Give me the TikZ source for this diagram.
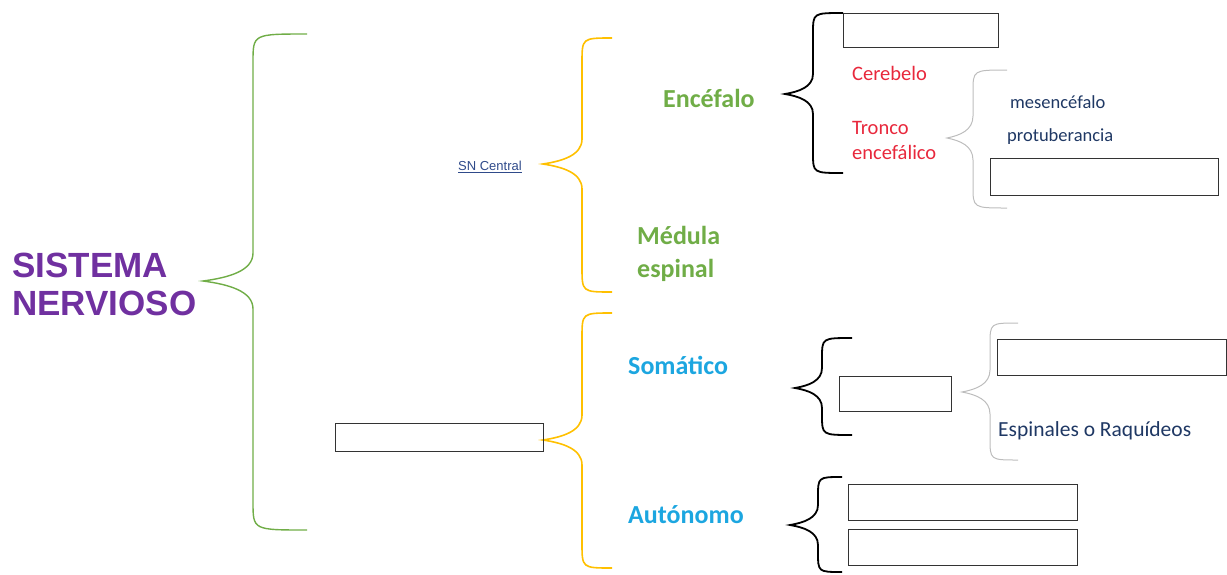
\documentclass[tikz,border=0pt]{standalone}
\usepackage{fontspec}
\setmainfont{Carlito}
\newfontfamily\arialfont{Liberation Sans}
\definecolor{snpurple}{HTML}{7030A0}
\definecolor{sngreen}{HTML}{70AD47}
\definecolor{snyellow}{HTML}{FFC000}
\definecolor{sncyan}{HTML}{1CA6E0}
\definecolor{snred}{HTML}{E8283C}
\definecolor{sndblue}{HTML}{1F3864}
\definecolor{snlink}{HTML}{2F4A8A}
\definecolor{sngray}{HTML}{BDBDBD}
\definecolor{snbox}{HTML}{333333}
\newcommand\mybrace[8]{%
  \draw[#1] (#2,#5) .. controls (#3,#5) .. (#3,{#5+#8})
    -- (#3,{#6-#8}) .. controls (#3,{#6-0.35*#8}) and ({(#3+#4)/2},{#6-0.12*#8}) .. (#4,#6)
    .. controls ({(#3+#4)/2},{#6+0.12*#8}) and (#3,{#6+0.35*#8}) .. (#3,{#6+#8})
    -- (#3,{#7-#8}) .. controls (#3,#7) .. (#2,#7);}
\tikzset{
  greenbr/.style={draw=sngreen, line width=1.4pt},
  yellowbr/.style={draw=snyellow, line width=1.6pt},
  blackbr/.style={draw=black, line width=1.8pt},
  graybr/.style={draw=sngray, line width=1pt},
  blankbox/.style={draw=snbox, line width=1.4pt, anchor=north west, inner sep=0pt},
  lvlone/.style={font=\bfseries\fontsize{26}{33}\selectfont, anchor=west, align=left},
  redtxt/.style={text=snred, font=\fontsize{20.5}{25}\selectfont, anchor=west, align=left},
  bluetxt/.style={text=sndblue, font=\fontsize{18.5}{22}\selectfont, anchor=west},
}
\begin{document}
\begin{tikzpicture}[x=1pt,y=-1pt]
\useasboundingbox (0,0) rectangle (1227,574);
% title
\node[anchor=west, align=left, text=snpurple, inner sep=0pt,
  font=\arialfont\bfseries\fontsize{35}{38}\selectfont] (title) at (12,284) {SISTEMA\\NERVIOSO};
% braces
\mybrace{greenbr}{307}{253}{203}{34}{281}{530}{28}
\mybrace{yellowbr}{612}{582}{543}{38}{164}{292}{25}
\mybrace{yellowbr}{612}{582}{543}{313}{440}{568}{25}
\mybrace{blackbr}{843}{813}{785}{13}{94}{173}{20}
\mybrace{graybr}{1007}{973}{947}{70}{138}{208}{22}
\mybrace{blackbr}{852}{822}{795}{338}{388}{435}{20}
\mybrace{graybr}{1018}{990}{962}{323}{392}{460}{22}
\mybrace{blackbr}{842}{818}{790}{477}{525}{572}{20}
% labels
\node[anchor=west, text=snlink, inner sep=0pt, font=\arialfont\fontsize{13}{15}\selectfont] (snc) at (458,167) {\underline{SN Central}};
\node[lvlone, text=sngreen, inner sep=0pt] (enc) at (663,98) {Encéfalo};
\node[lvlone, text=sngreen, inner sep=0pt] (med) at (637,254) {Médula\\espinal};
\node[lvlone, text=sncyan, inner sep=0pt] (som) at (628,365) {Somático};
\node[lvlone, text=sncyan, inner sep=0pt] (aut) at (628,515) {Autónomo};
\node[redtxt, inner sep=0pt] (cer) at (852,73) {Cerebelo};
\node[redtxt, inner sep=0pt] (tro) at (852,140) {Tronco\\encefálico};
\node[bluetxt, inner sep=0pt] (mes) at (1010,102) {mesencéfalo};
\node[bluetxt, inner sep=0pt] (pro) at (1007,137) {protuberancia};
\node[bluetxt, font=\fontsize{21.5}{24}\selectfont, inner sep=0pt] (esp) at (998,431) {Espinales o Raquídeos};
% blank boxes
\node[blankbox, minimum width=155pt, minimum height=34pt] (b1) at (843,13) {};
\node[blankbox, minimum width=228pt, minimum height=37pt] (b2) at (990,158) {};
\node[blankbox, minimum width=112pt, minimum height=35pt] (b3) at (839,376) {};
\node[blankbox, minimum width=229pt, minimum height=36pt] (b4) at (997,339) {};
\node[blankbox, minimum width=229pt, minimum height=36pt] (b5) at (848,484) {};
\node[blankbox, minimum width=229pt, minimum height=36pt] (b6) at (848,529) {};
\node[blankbox, minimum width=208pt, minimum height=28pt] (b7) at (335,423) {};
\end{tikzpicture}
\end{document}
